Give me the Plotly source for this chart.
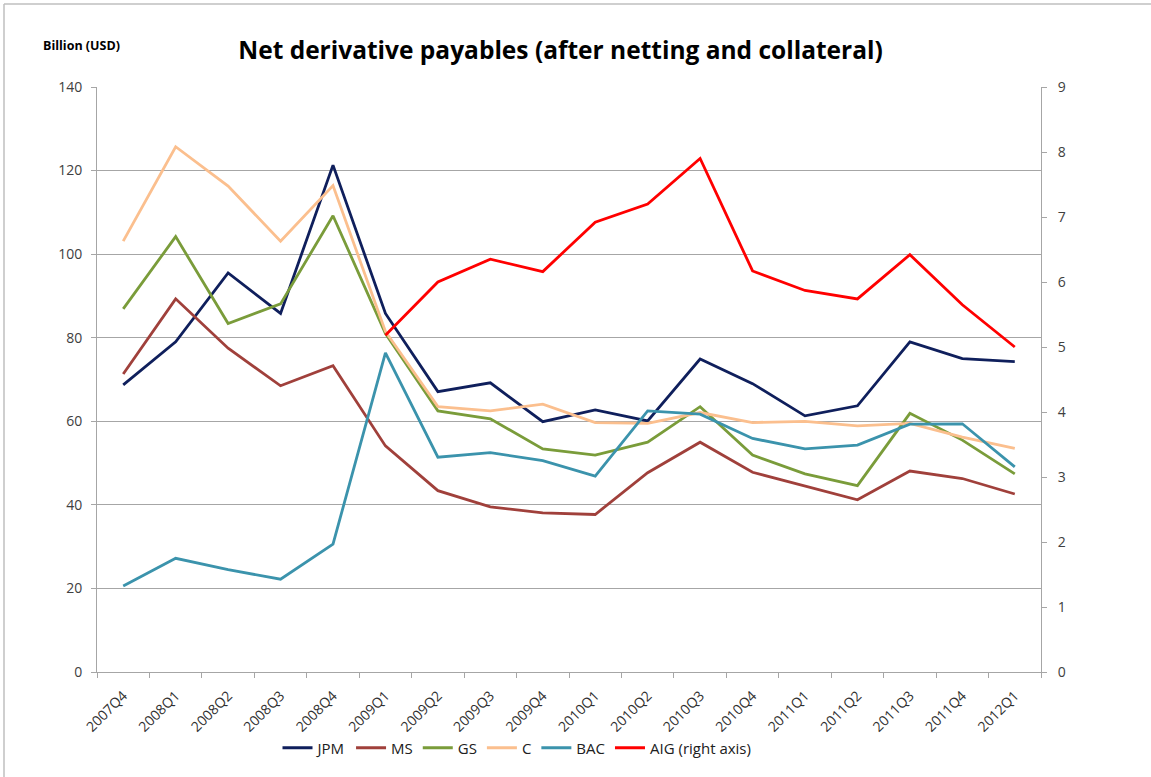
import plotly.graph_objects as go

quarters = ["2007Q4", "2008Q1", "2008Q2", "2008Q3", "2008Q4", "2009Q1", "2009Q2", "2009Q3",
            "2009Q4", "2010Q1", "2010Q2", "2010Q3", "2010Q4", "2011Q1", "2011Q2", "2011Q3",
            "2011Q4", "2012Q1"]

jpm = [68.7, 79.0, 95.5, 85.8, 121.3, 85.8, 67.1, 69.2, 59.9, 62.7, 60.1, 74.9, 69.0, 61.3, 63.7, 79.0, 75.0, 74.3]
ms = [71.3, 89.3, 77.5, 68.5, 73.3, 54.1, 43.4, 39.5, 38.1, 37.7, 47.7, 55.0, 47.8, 44.5, 41.2, 48.1, 46.3, 42.6]
gs = [86.9, 104.2, 83.4, 88.1, 109.2, 81.0, 62.5, 60.6, 53.4, 51.9, 55.0, 63.5, 51.9, 47.4, 44.6, 61.9, 55.5, 47.4]
c = [103.1, 125.7, 116.3, 103.1, 116.4, 81.5, 63.5, 62.5, 64.1, 59.7, 59.5, 62.1, 59.7, 60.0, 58.9, 59.5, 56.2, 53.5]
bac = [20.6, 27.2, 24.5, 22.2, 30.6, 76.4, 51.4, 52.5, 50.6, 46.9, 62.5, 61.7, 55.9, 53.4, 54.3, 59.3, 59.4, 49.1]
aig = [None, None, None, None, None, 5.18, 6.00, 6.35, 6.16, 6.92, 7.20, 7.90, 6.17, 5.87, 5.74, 6.42, 5.65, 5.00]

left_ticks = [0, 20, 40, 60, 80, 100, 120, 140]
right_ticks = [0, 1, 2, 3, 4, 5, 6, 7, 8, 9]

FONT = "Open Sans"
fig = go.Figure()

series = [
    ("JPM", jpm, "#0F1F5C", "y"),
    ("MS", ms, "#A0403B", "y"),
    ("GS", gs, "#7A9C3A", "y"),
    ("C", c, "#FBBF8E", "y"),
    ("BAC", bac, "#3B93AC", "y"),
    ("AIG (right axis)", aig, "#FF0000", "y2"),
]
for name, vals, col, ax in series:
    fig.add_trace(go.Scatter(x=quarters, y=vals, name=name, mode="lines",
                             line=dict(color=col, width=2.8), yaxis=ax,
                             connectgaps=False))

L, R, T, B = 97, 110, 87, 105
W, H = 1151, 777
pw, ph = W - L - R, H - T - B

fig.update_layout(
    width=W, height=H,
    margin=dict(l=L, r=R, t=T, b=B, autoexpand=False),
    paper_bgcolor="white", plot_bgcolor="white",
    font=dict(family=FONT, color="#404040"),
    title=dict(text="<b>Net derivative payables (after netting and collateral)</b>",
               x=0.487, xanchor="center", y=0.935, yanchor="middle",
               font=dict(size=24.5, color="black", family=FONT), automargin=False),
    xaxis=dict(type="category", range=[-0.5, 17.5], showgrid=False, automargin=False,
               showline=True, linecolor="#A6A6A6", linewidth=1,
               ticks="outside", tickson="boundaries", ticklen=5, tickcolor="#A6A6A6",
               tickangle=-45, ticklabelstandoff=9,
               tickfont=dict(size=14, color="#303030", family=FONT)),
    yaxis=dict(range=[0, 140], tickvals=left_ticks, showgrid=True, gridcolor="#A6A6A6",
               gridwidth=1, showline=True, linecolor="#A6A6A6", ticks="outside",
               ticklen=5, tickcolor="#A6A6A6", zeroline=False, automargin=False,
               ticklabelstandoff=6,
               tickfont=dict(size=14, color="#404040", family=FONT)),
    yaxis2=dict(range=[0, 9], tickvals=right_ticks, overlaying="y", side="right",
                showgrid=False, showline=True, linecolor="#A6A6A6", ticks="outside",
                ticklen=5, tickcolor="#A6A6A6", zeroline=False, automargin=False,
                ticklabelstandoff=8,
                tickfont=dict(size=14, color="#404040", family=FONT)),
    legend=dict(orientation="h", x=(517 - L) / pw, xanchor="center",
                y=(H - B - 748) / ph, yanchor="middle",
                font=dict(size=15, color="#202020", family=FONT), itemwidth=30),
    showlegend=True,
)

fig.add_annotation(text="<b>Billion (USD)</b>", xref="paper", yref="paper",
                   x=(81 - L) / pw, y=(H - B - 45) / ph, xanchor="center", yanchor="middle",
                   showarrow=False, font=dict(size=12.5, color="black", family=FONT))

# faint chart-area border (top and left edges visible in the reference)
border = dict(color="#BFBFBF", width=1.5)
fig.add_shape(type="line", xref="paper", yref="paper",
              x0=(4 - L) / pw, x1=(W - L) / pw, y0=(H - B - 4) / ph, y1=(H - B - 4) / ph,
              line=border, layer="below")
fig.add_shape(type="line", xref="paper", yref="paper",
              x0=(4 - L) / pw, x1=(4 - L) / pw, y0=(H - B - H) / ph, y1=(H - B - 4) / ph,
              line=border, layer="below")

fig.write_html("out.html", config={"displayModeBar": False},
               post_script="document.body.style.margin='0px';document.body.style.overflow='hidden';")
